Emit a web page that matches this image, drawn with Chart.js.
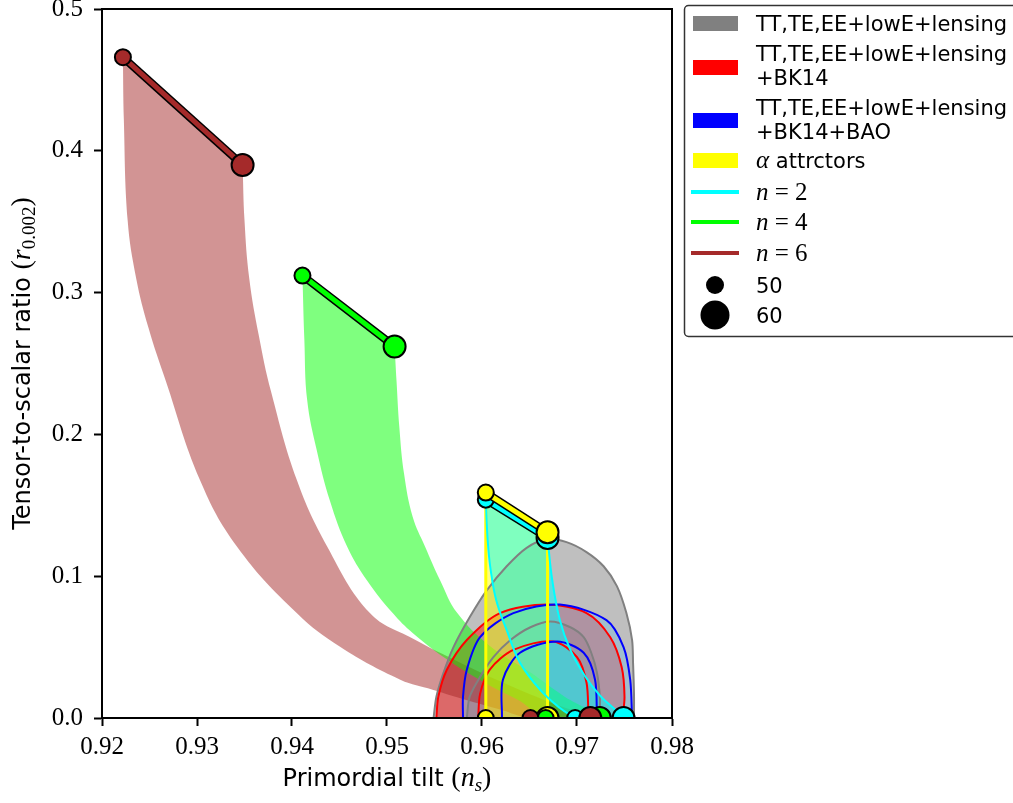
<!DOCTYPE html>
<html>
<head>
<meta charset="utf-8">
<title>Tensor-to-scalar ratio vs primordial tilt</title>
<script src="https://cdn.jsdelivr.net/npm/chart.js@4/dist/chart.umd.min.js"></script>
<style>
	body { margin: 0; background: #fff; }
	canvas { display: block; }
</style>
</head>
<body>
<canvas id="grafico" width="1013" height="803"></canvas>
<script>
// ejes
var ticksX = [0.92, 0.93, 0.94, 0.95, 0.96, 0.97, 0.98];
var ticksY = [0.0, 0.1, 0.2, 0.3, 0.4, 0.5];

// contornos Planck (68% / 95%)
var grisExt_ns = [0.9549, 0.9552, 0.9559, 0.9570, 0.9587, 0.9605, 0.9626, 0.9647, 0.9668, 0.9689, 0.9710, 0.9728, 0.9742, 0.9752, 0.9758, 0.9759, 0.9760, 0.9760];
var grisExt_r  = [0.000, 0.015, 0.031, 0.050, 0.071, 0.090, 0.107, 0.120, 0.126, 0.124, 0.117, 0.107, 0.093, 0.074, 0.055, 0.039, 0.017, 0.000];
var grisInt_ns = [0.9584, 0.9587, 0.9598, 0.9612, 0.9630, 0.9651, 0.9672, 0.9693, 0.9707, 0.9715, 0.9721, 0.9724, 0.9724];
var grisInt_r  = [0.000, 0.015, 0.029, 0.043, 0.055, 0.064, 0.068, 0.064, 0.057, 0.046, 0.032, 0.015, 0.000];
var rojoExt_ns = [0.9552, 0.9554, 0.9563, 0.9584, 0.9619, 0.9668, 0.9710, 0.9735, 0.9747, 0.9750, 0.9748];
var rojoExt_r  = [0.000, 0.015, 0.034, 0.055, 0.074, 0.080, 0.074, 0.057, 0.036, 0.015, 0.000];
var rojoInt_ns = [0.9596, 0.9598, 0.9608, 0.9633, 0.9675, 0.9700, 0.9710, 0.9712, 0.9712];
var rojoInt_r  = [0.000, 0.017, 0.034, 0.048, 0.054, 0.043, 0.025, 0.003, 0.000];
var azulExt_ns = [0.9580, 0.9580, 0.9584, 0.9598, 0.9633, 0.9682, 0.9731, 0.9749, 0.9756, 0.9758];
var azulExt_r  = [0.000, 0.015, 0.034, 0.057, 0.074, 0.080, 0.069, 0.050, 0.027, 0.000];
var azulInt_ns = [0.9621, 0.9622, 0.9640, 0.9679, 0.9707, 0.9719, 0.9721];
var azulInt_r  = [0.000, 0.027, 0.046, 0.054, 0.046, 0.027, 0.000];

// modelos, N=50 (a) y N=60 (b)
var n6a_ns = [0.9222, 0.9223, 0.9227, 0.9236, 0.9249, 0.9267, 0.9303, 0.9342, 0.9405, 0.9451, 0.9514, 0.9548, 0.9587, 0.9619, 0.9651];
var n6a_r  = [0.466, 0.422, 0.351, 0.310, 0.275, 0.238, 0.168, 0.121, 0.074, 0.050, 0.027, 0.020, 0.012, 0.006, 0.000];
var n6b_ns = [0.9348, 0.9350, 0.9355, 0.9365, 0.9378, 0.9405, 0.9437, 0.9482, 0.9527, 0.9577, 0.9629, 0.9672, 0.9714];
var n6b_r  = [0.390, 0.351, 0.310, 0.270, 0.230, 0.168, 0.121, 0.074, 0.056, 0.039, 0.023, 0.011, 0.000];
var n4a_ns = [0.9411, 0.9413, 0.9416, 0.9426, 0.9440, 0.9458, 0.9479, 0.9506, 0.9527, 0.9566, 0.9608, 0.9640, 0.9667];
var n4a_r  = [0.312, 0.267, 0.224, 0.189, 0.153, 0.121, 0.097, 0.074, 0.060, 0.040, 0.023, 0.012, 0.000];
var n4b_ns = [0.9508, 0.9510, 0.9513, 0.9518, 0.9527, 0.9540, 0.9556, 0.9574, 0.9608, 0.9651, 0.9687, 0.9724];
var n4b_r  = [0.262, 0.238, 0.205, 0.172, 0.142, 0.121, 0.097, 0.074, 0.051, 0.032, 0.015, 0.000];
var n2a_ns = [0.9604, 0.9606, 0.9609, 0.9615, 0.9626, 0.9640, 0.9661, 0.9682, 0.9698];
var n2a_r  = [0.154, 0.125, 0.105, 0.083, 0.062, 0.039, 0.020, 0.007, 0.000];
var n2b_ns = [0.9669, 0.9674, 0.9682, 0.9693, 0.9708, 0.9724, 0.9740, 0.9749];
var n2b_r  = [0.127, 0.097, 0.069, 0.048, 0.030, 0.016, 0.006, 0.000];
var alfa_ns    = [0.9604, 0.9669];
var alfaTop_r  = [0.159, 0.131];
var alfaBase_r = [0.000, 0.000];

// extremos (N=50, N=60)
var n6Top_ns = [0.9222, 0.9348], n6Top_r = [0.466, 0.390];
var n4Top_ns = [0.9411, 0.9508], n4Top_r = [0.312, 0.262];
var n2Top_ns = [0.9604, 0.9669], n2Top_r = [0.154, 0.127];
var n6Base_ns = [0.9651, 0.9714];
var n4Base_ns = [0.9667, 0.9724];
var n2Base_ns = [0.9698, 0.9749];
var ceros = [0, 0];

var CIAN = '#00ffff', VERDE = '#00ff00', MARRON = '#a52a2a', AMARILLO = '#ffff00';
var SANS = '"DejaVu Sans"', SERIF = '"Liberation Serif"';

function puntos(xs, ys) {
	return xs.map(function (x, i) { return {x: x, y: ys[i]}; });
}
function poligono(xsA, ysA, xsB, ysB) {
	return puntos(xsA, ysA).concat(puntos(xsB, ysB).reverse());
}
function relleno(data, color, tension) {
	return {data: data, fill: 'shape', backgroundColor: color, borderColor: 'transparent', borderWidth: 0, pointRadius: 0,
		tension: tension === undefined ? 0.3 : tension};
}
function linea(data, color, ancho, tension) {
	return {data: data, fill: false, borderColor: color, borderWidth: ancho, pointRadius: 0,
		tension: tension === undefined ? 0.3 : tension};
}
function marcas(data, color) {
	return {data: data, showLine: false, pointRadius: [8, 11], pointBackgroundColor: color, pointBorderColor: '#000', pointBorderWidth: 2};
}
function barra(xs, ys, color) {
	return [
		linea(puntos(xs, ys), '#000', 8, 0),
		{data: puntos(xs, ys), fill: false, borderColor: color, borderWidth: 5, tension: 0,
			pointRadius: [8, 11], pointBackgroundColor: color, pointBorderColor: '#000', pointBorderWidth: 2}
	];
}

var datasets = [
	// contornos rellenos
	relleno(puntos(grisExt_ns, grisExt_r), 'rgba(128,128,128,0.5)'),
	relleno(puntos(grisInt_ns, grisInt_r), 'rgba(128,128,128,0.5)'),
	relleno(puntos(rojoExt_ns, rojoExt_r), 'rgba(255,0,0,0.45)'),
	relleno(puntos(rojoInt_ns, rojoInt_r), 'rgba(255,0,0,0.2)'),
	relleno(puntos(azulExt_ns, azulExt_r), 'rgba(130,190,220,0.5)'),
	relleno(puntos(azulInt_ns, azulInt_r), 'rgba(130,190,220,0.2)'),
	// bandas
	relleno(poligono(n6a_ns, n6a_r, n6b_ns, n6b_r), 'rgba(165,42,42,0.5)', 0.4),
	relleno(poligono(n4a_ns, n4a_r, n4b_ns, n4b_r), 'rgba(0,255,0,0.5)', 0.4),
	relleno(poligono(alfa_ns, alfaTop_r, alfa_ns, alfaBase_r), 'rgba(255,255,0,0.5)', 0),
	relleno(poligono(n2a_ns, n2a_r, n2b_ns, n2b_r), 'rgba(0,255,255,0.5)', 0.4),
	// lineas de contorno
	linea(puntos(grisExt_ns, grisExt_r), '#808080', 2),
	linea(puntos(grisInt_ns, grisInt_r), '#808080', 2),
	linea(puntos(rojoExt_ns, rojoExt_r), '#ff0000', 2),
	linea(puntos(rojoInt_ns, rojoInt_r), '#ff0000', 2),
	linea(puntos(azulExt_ns, azulExt_r), '#0000ff', 2),
	linea(puntos(azulInt_ns, azulInt_r), '#0000ff', 2),
	// bordes de bandas
	linea(puntos([alfa_ns[0], alfa_ns[0]], [alfaTop_r[0], 0]), AMARILLO, 3, 0),
	linea(puntos([alfa_ns[1], alfa_ns[1]], [alfaTop_r[1], 0]), AMARILLO, 3, 0),
	linea(puntos(n2a_ns, n2a_r), CIAN, 2, 0.4),
	linea(puntos(n2b_ns, n2b_r), CIAN, 2, 0.4),
	// puntos en r = 0
	marcas(puntos(n2Base_ns, ceros), CIAN),
	marcas(puntos(alfa_ns, alfaBase_r), AMARILLO),
	marcas(puntos(n4Base_ns, ceros), VERDE),
	marcas(puntos(n6Base_ns, ceros), MARRON)
];
datasets = datasets
	.concat(barra(n2Top_ns, n2Top_r, CIAN))
	.concat(barra(alfa_ns, alfaTop_r, AMARILLO))
	.concat(barra(n4Top_ns, n4Top_r, VERDE))
	.concat(barra(n6Top_ns, n6Top_r, MARRON));

datasets.forEach(function (ds, i) {
	ds.order = -i; // el primero abajo
	ds.clip = 0;
});

function textoMixto(ctx, partes, x, y, centrado) {
	var total = 0;
	partes.forEach(function (p) { ctx.font = p[1]; total += ctx.measureText(p[0]).width; });
	var cx = centrado ? x - total / 2 : x;
	ctx.textBaseline = 'alphabetic';
	ctx.textAlign = 'left';
	partes.forEach(function (p) {
		ctx.font = p[1];
		ctx.fillText(p[0], cx, y + (p[2] || 0));
		cx += ctx.measureText(p[0]).width;
	});
}

var marco = {
	id: 'marco',
	afterDatasetsDraw: function (chart) {
		var a = chart.chartArea, ctx = chart.ctx;
		ctx.save();
		ctx.strokeStyle = '#000';
		ctx.lineWidth = 2;
		ctx.strokeRect(a.left, a.top, a.right - a.left, a.bottom - a.top);
		ctx.restore();
	},
	afterDraw: function (chart) {
		var ctx = chart.ctx, a = chart.chartArea;
		ctx.save();
		ctx.fillStyle = '#000';
		// titulo eje x
		textoMixto(ctx, [
			['Primordial tilt ', '24px ' + SANS],
			['(', '28px ' + SERIF],
			['n', 'italic 28px ' + SERIF],
			['s', 'italic 19px ' + SERIF, 5],
			[')', '28px ' + SERIF]
		], (a.left + a.right) / 2, 786, true);
		// titulo eje y
		ctx.save();
		ctx.translate(30, (a.top + a.bottom) / 2);
		ctx.rotate(-Math.PI / 2);
		textoMixto(ctx, [
			['Tensor-to-scalar ratio ', '24px ' + SANS],
			['(', '28px ' + SERIF],
			['r', 'italic 28px ' + SERIF],
			['0.002', '19px ' + SERIF, 5],
			[')', '28px ' + SERIF]
		], 0, 0, true);
		ctx.restore();

		// leyenda
		ctx.fillStyle = '#fff';
		ctx.strokeStyle = 'rgba(0,0,0,0.8)';
		ctx.lineWidth = 1.5;
		ctx.beginPath();
		ctx.roundRect(684.5, 5.5, 340, 331, 4);
		ctx.fill();
		ctx.stroke();

		var tx = 756, sans = '21px ' + SANS;
		var parches = [
			['#808080', 16, [['TT,TE,EE+lowE+lensing', 31]]],
			['#ff0000', 60, [['TT,TE,EE+lowE+lensing', 61], ['+BK14', 85]]],
			['#0000ff', 113, [['TT,TE,EE+lowE+lensing', 115], ['+BK14+BAO', 139]]]
		];
		parches.forEach(function (p) {
			ctx.fillStyle = p[0];
			ctx.fillRect(693, p[1], 45, 15);
			ctx.fillStyle = '#000';
			p[2].forEach(function (l) { textoMixto(ctx, [[l[0], sans]], tx, l[1]); });
		});
		ctx.fillStyle = AMARILLO;
		ctx.fillRect(693, 153, 45, 15);
		ctx.fillStyle = '#000';
		textoMixto(ctx, [['\u03b1', 'italic 25px ' + SERIF], [' attrctors', sans]], tx, 168);

		[[CIAN, 192, '2'], [VERDE, 222, '4'], [MARRON, 253, '6']].forEach(function (l) {
			ctx.strokeStyle = l[0];
			ctx.lineWidth = 4;
			ctx.beginPath();
			ctx.moveTo(691, l[1]);
			ctx.lineTo(739, l[1]);
			ctx.stroke();
			ctx.fillStyle = '#000';
			textoMixto(ctx, [['n', 'italic 25px ' + SERIF], [' = ' + l[2], '25px ' + SERIF]], tx, l[1] + 8);
		});

		[[285, 9, '50'], [315, 14.5, '60']].forEach(function (c) {
			ctx.fillStyle = '#000';
			ctx.beginPath();
			ctx.arc(715, c[0], c[1], 0, Math.PI * 2);
			ctx.fill();
			textoMixto(ctx, [[c[2], sans]], tx, c[0] + 8);
		});
		ctx.restore();
	}
};

var ejeComun = {
	type: 'linear',
	grid: {display: true, drawOnChartArea: false, drawTicks: true, tickLength: 8, tickWidth: 2, tickColor: '#000'},
	border: {display: true, color: '#000', width: 2},
	ticks: {color: '#000', font: {family: 'Liberation Serif', size: 25}, autoSkip: false, maxRotation: 0}
};

// sin margen extra por etiquetas
function sinRelleno(s) {
	s.paddingTop = 0; s.paddingBottom = 0; s.paddingLeft = 0; s.paddingRight = 0;
}

new Chart(document.getElementById('grafico'), {
	type: 'line',
	data: {datasets: datasets},
	options: {
		responsive: false,
		animation: false,
		layout: {autoPadding: false, padding: {left: 0, top: 9, right: 341, bottom: 0}},
		plugins: {legend: {display: false}, tooltip: {enabled: false}},
		scales: {
			x: Object.assign({}, ejeComun, {
				min: ticksX[0], max: ticksX[ticksX.length - 1],
				ticks: Object.assign({}, ejeComun.ticks, {stepSize: 0.01, padding: 6,
					callback: function (v) { return v.toFixed(2); }}),
				afterFit: function (s) { s.height = 85; sinRelleno(s); }
			}),
			y: Object.assign({}, ejeComun, {
				min: ticksY[0], max: ticksY[ticksY.length - 1],
				ticks: Object.assign({}, ejeComun.ticks, {stepSize: 0.1, padding: 11,
					callback: function (v) { return v.toFixed(1); }}),
				afterFit: function (s) { s.width = 102; sinRelleno(s); }
			})
		}
	},
	plugins: [marco]
});
</script>
</body>
</html>
